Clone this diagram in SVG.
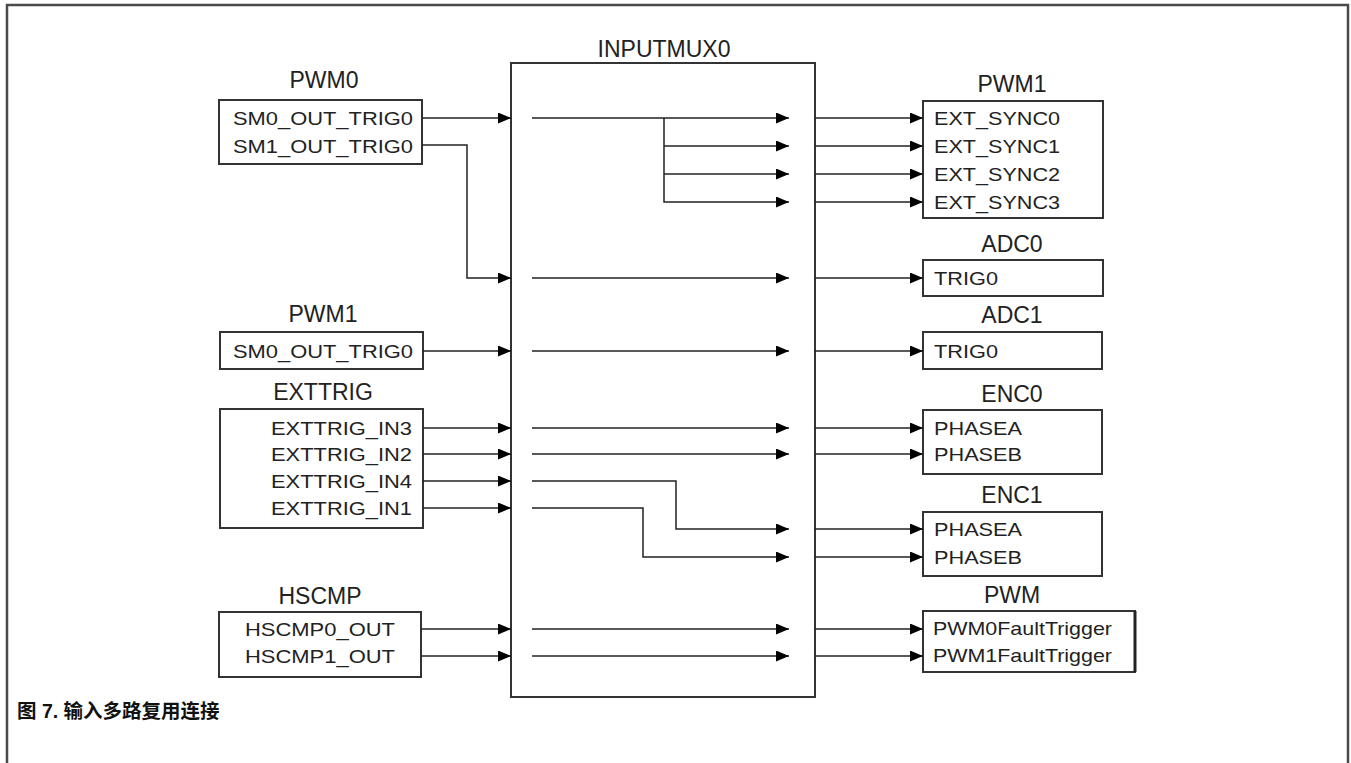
<svg xmlns="http://www.w3.org/2000/svg" width="1351" height="763" viewBox="0 0 1351 763">
<style>
.frame{fill:none;stroke:#4a4a4a;stroke-width:2.5}
.box{fill:#fff;stroke:#333;stroke-width:2}
.hd{font-family:"Liberation Sans",Arial,sans-serif;font-size:23px;fill:#222;text-anchor:middle}
.t{font-family:"Liberation Sans",Arial,sans-serif;font-size:19px;fill:#222}
.ln{fill:none;stroke:#222;stroke-width:1.5}
.cap{font-family:"Liberation Sans","Noto Sans CJK SC",sans-serif;font-size:19.5px;font-weight:bold;fill:#111}
</style>
<defs>
<marker id="arr" markerUnits="userSpaceOnUse" markerWidth="13" markerHeight="11" refX="13" refY="5.5" orient="auto">
<path d="M0,0 L13,5.5 L0,11 z" fill="#000"/>
</marker>
</defs>
<rect width="1351" height="763" fill="#fff"/>
<rect class="frame" x="7" y="5" width="1341" height="800"/>

<g id="inputmux0">
<rect class="box" x="511" y="63" width="304" height="634"/>
<text class="hd" x="664" y="57">INPUTMUX0</text>
</g>

<g id="pwm0">
<text class="hd" x="324" y="88">PWM0</text>
<rect class="box" x="219" y="100" width="203" height="64"/>
<text class="t" x="233" y="125" textLength="180" lengthAdjust="spacingAndGlyphs">SM0_OUT_TRIG0</text>
<text class="t" x="233" y="153" textLength="180" lengthAdjust="spacingAndGlyphs">SM1_OUT_TRIG0</text>
</g>

<g id="pwm1-src">
<text class="hd" x="323" y="322">PWM1</text>
<rect class="box" x="220" y="332" width="203" height="37"/>
<text class="t" x="233" y="358" textLength="180" lengthAdjust="spacingAndGlyphs">SM0_OUT_TRIG0</text>
</g>

<g id="exttrig">
<text class="hd" x="323" y="400">EXTTRIG</text>
<rect class="box" x="220" y="409" width="203" height="119"/>
<text class="t" x="271" y="435" textLength="141" lengthAdjust="spacingAndGlyphs">EXTTRIG_IN3</text>
<text class="t" x="271" y="461" textLength="141" lengthAdjust="spacingAndGlyphs">EXTTRIG_IN2</text>
<text class="t" x="271" y="488" textLength="141" lengthAdjust="spacingAndGlyphs">EXTTRIG_IN4</text>
<text class="t" x="271" y="515" textLength="141" lengthAdjust="spacingAndGlyphs">EXTTRIG_IN1</text>
</g>

<g id="hscmp">
<text class="hd" x="320" y="604">HSCMP</text>
<rect class="box" x="219" y="612" width="202" height="65"/>
<text class="t" x="245" y="636" textLength="150" lengthAdjust="spacingAndGlyphs">HSCMP0_OUT</text>
<text class="t" x="245" y="663" textLength="150" lengthAdjust="spacingAndGlyphs">HSCMP1_OUT</text>
</g>

<g id="pwm1-dst">
<text class="hd" x="1012" y="92">PWM1</text>
<rect class="box" x="923" y="101" width="180" height="117"/>
<text class="t" x="934" y="125" textLength="126" lengthAdjust="spacingAndGlyphs">EXT_SYNC0</text>
<text class="t" x="934" y="153" textLength="126" lengthAdjust="spacingAndGlyphs">EXT_SYNC1</text>
<text class="t" x="934" y="181" textLength="126" lengthAdjust="spacingAndGlyphs">EXT_SYNC2</text>
<text class="t" x="934" y="209" textLength="126" lengthAdjust="spacingAndGlyphs">EXT_SYNC3</text>
</g>

<g id="adc0">
<text class="hd" x="1012" y="252">ADC0</text>
<rect class="box" x="923" y="260" width="180" height="36"/>
<text class="t" x="934" y="285" textLength="64" lengthAdjust="spacingAndGlyphs">TRIG0</text>
</g>

<g id="adc1">
<text class="hd" x="1012" y="323">ADC1</text>
<rect class="box" x="923" y="332" width="179" height="37"/>
<text class="t" x="934" y="358" textLength="64" lengthAdjust="spacingAndGlyphs">TRIG0</text>
</g>

<g id="enc0">
<text class="hd" x="1012" y="402">ENC0</text>
<rect class="box" x="923" y="410" width="179" height="64"/>
<text class="t" x="934" y="435" textLength="88" lengthAdjust="spacingAndGlyphs">PHASEA</text>
<text class="t" x="934" y="461" textLength="88" lengthAdjust="spacingAndGlyphs">PHASEB</text>
</g>

<g id="enc1">
<text class="hd" x="1012" y="503">ENC1</text>
<rect class="box" x="923" y="512" width="179" height="64"/>
<text class="t" x="934" y="536" textLength="88" lengthAdjust="spacingAndGlyphs">PHASEA</text>
<text class="t" x="934" y="564" textLength="88" lengthAdjust="spacingAndGlyphs">PHASEB</text>
</g>

<g id="pwm">
<text class="hd" x="1012" y="603">PWM</text>
<rect class="box" x="923" y="611" width="212" height="61"/>
<line x1="1135" y1="611" x2="1135" y2="672" stroke="#222" stroke-width="3"/>
<text class="t" x="933" y="635" textLength="179" lengthAdjust="spacingAndGlyphs">PWM0FaultTrigger</text>
<text class="t" x="933" y="662" textLength="179" lengthAdjust="spacingAndGlyphs">PWM1FaultTrigger</text>
</g>

<g id="connectors">
<path class="ln" d="M422,118 H511" marker-end="url(#arr)"/>
<path class="ln" d="M422,145 H467 V278 H511" marker-end="url(#arr)"/>
<path class="ln" d="M423,351 H511" marker-end="url(#arr)"/>
<path class="ln" d="M423,428 H511" marker-end="url(#arr)"/>
<path class="ln" d="M423,454 H511" marker-end="url(#arr)"/>
<path class="ln" d="M423,481 H511" marker-end="url(#arr)"/>
<path class="ln" d="M423,508 H511" marker-end="url(#arr)"/>
<path class="ln" d="M421,629 H511" marker-end="url(#arr)"/>
<path class="ln" d="M421,656 H511" marker-end="url(#arr)"/>

<path class="ln" d="M532,118 H789" marker-end="url(#arr)"/>
<path class="ln" d="M664,118 V202 H789" marker-end="url(#arr)"/>
<path class="ln" d="M664,146 H789" marker-end="url(#arr)"/>
<path class="ln" d="M664,174 H789" marker-end="url(#arr)"/>
<path class="ln" d="M532,278 H789" marker-end="url(#arr)"/>
<path class="ln" d="M532,351 H789" marker-end="url(#arr)"/>
<path class="ln" d="M532,428 H789" marker-end="url(#arr)"/>
<path class="ln" d="M532,454 H789" marker-end="url(#arr)"/>
<path class="ln" d="M532,481 H676 V529 H789" marker-end="url(#arr)"/>
<path class="ln" d="M532,508 H643 V557 H789" marker-end="url(#arr)"/>
<path class="ln" d="M532,629 H789" marker-end="url(#arr)"/>
<path class="ln" d="M532,656 H789" marker-end="url(#arr)"/>

<path class="ln" d="M815,118 H923" marker-end="url(#arr)"/>
<path class="ln" d="M815,146 H923" marker-end="url(#arr)"/>
<path class="ln" d="M815,174 H923" marker-end="url(#arr)"/>
<path class="ln" d="M815,202 H923" marker-end="url(#arr)"/>
<path class="ln" d="M815,278 H923" marker-end="url(#arr)"/>
<path class="ln" d="M815,351 H923" marker-end="url(#arr)"/>
<path class="ln" d="M815,428 H923" marker-end="url(#arr)"/>
<path class="ln" d="M815,454 H923" marker-end="url(#arr)"/>
<path class="ln" d="M815,529 H923" marker-end="url(#arr)"/>
<path class="ln" d="M815,557 H923" marker-end="url(#arr)"/>
<path class="ln" d="M815,629 H923" marker-end="url(#arr)"/>
<path class="ln" d="M815,656 H923" marker-end="url(#arr)"/>
</g>

<text class="cap" x="17" y="718">图 7. 输入多路复用连接</text>
</svg>
